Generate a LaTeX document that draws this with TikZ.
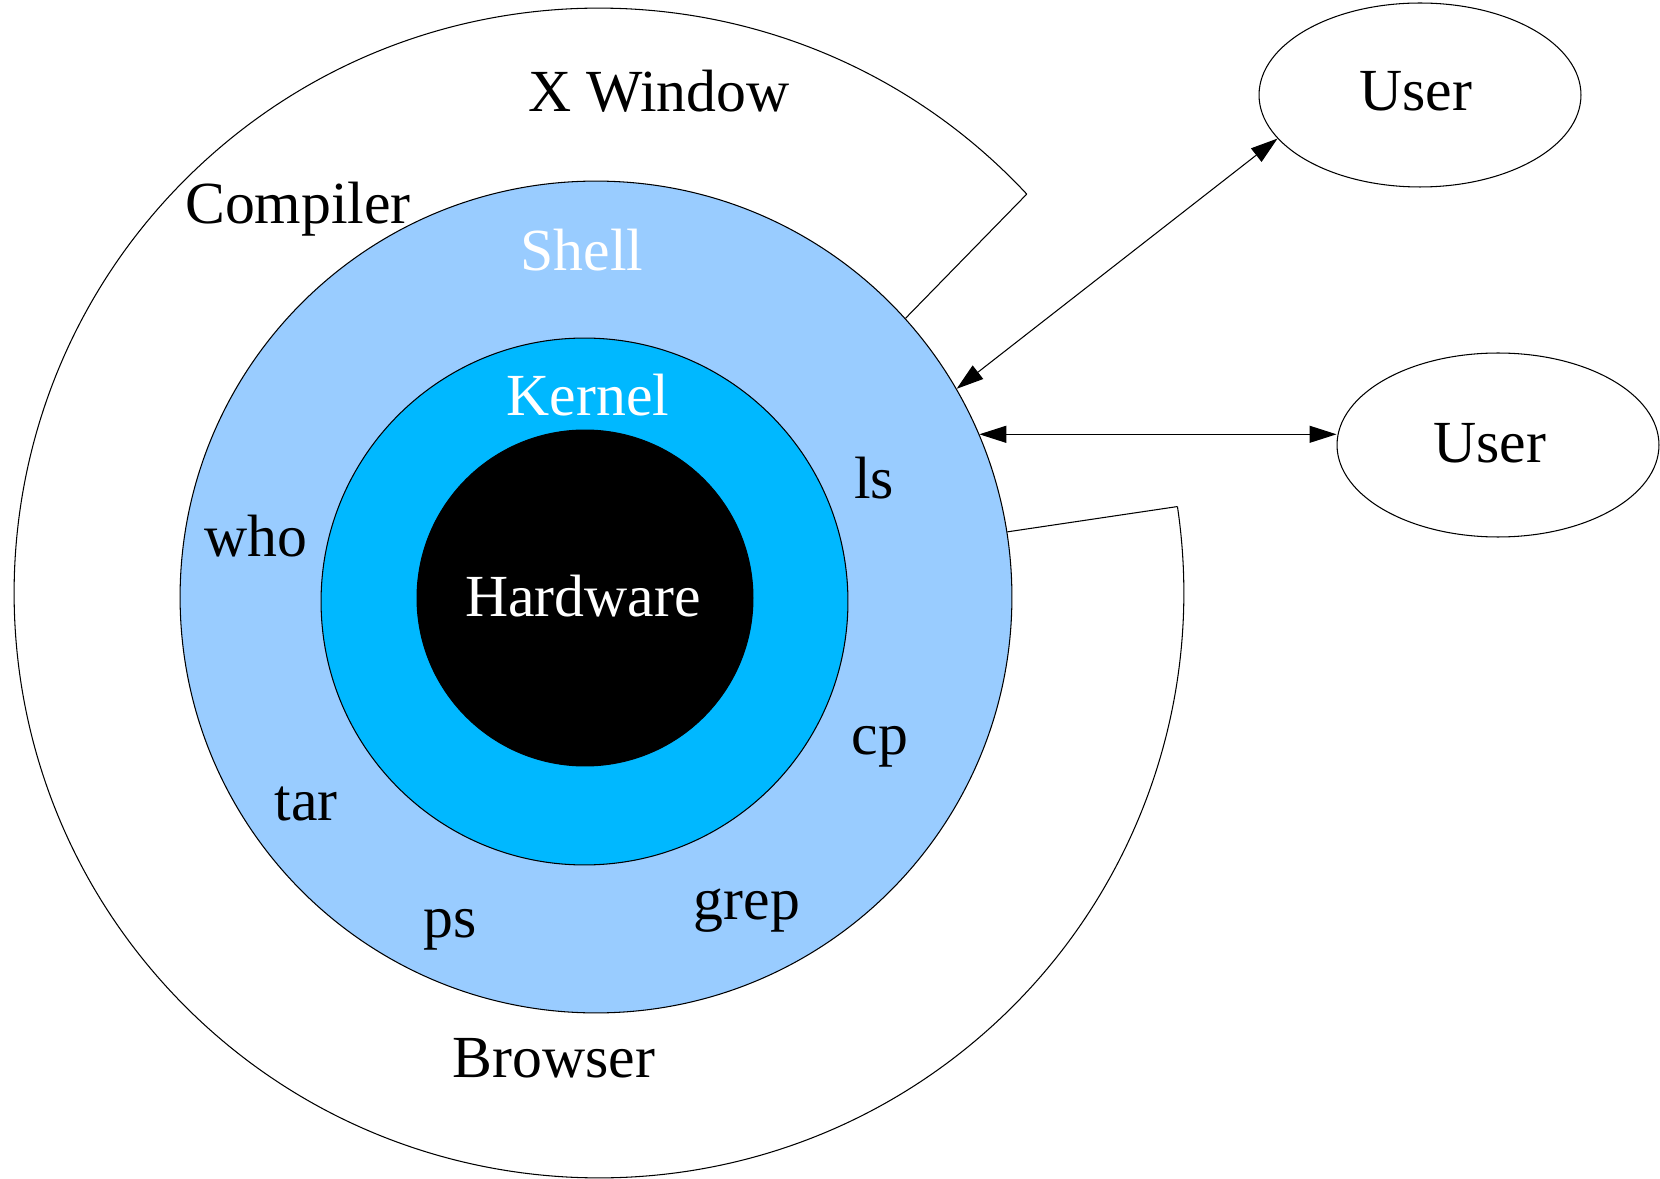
\documentclass[tikz,border=0pt]{standalone}
\usepackage{fontspec}
\setmainfont{Liberation Serif}
\usetikzlibrary{arrows.meta,shapes.geometric}
\definecolor{shellblue}{HTML}{99CCFF}
\definecolor{kernelblue}{HTML}{00B8FF}
\begin{document}
\begin{tikzpicture}[x=0.02cm,y=0.02cm,
  every node/.style={font=\fontsize{34}{40}\selectfont},
  ring/.style={circle,draw=black,line width=0.6pt,inner sep=0pt},
  lbl/.style={anchor=base,inner sep=0pt},
  wlbl/.style={lbl,text=white},
  usr/.style={ellipse,draw=black,line width=0.6pt,minimum width=6.44cm,minimum height=3.68cm,inner sep=0pt},
  link/.style={{Triangle[length=0.54cm,width=0.34cm]}-{Triangle[length=0.54cm,width=0.34cm]},line width=0.6pt}]
\fill[white] (0,0) rectangle (1660,1178);
\useasboundingbox (0,0) rectangle (1660,1178);
% outer C-shaped ring
\coordinate (oc) at (599,585);
\path (oc) ++(43:11.7cm) coordinate (oa);
\path (oc) ++(8.5:11.7cm) coordinate (ob);
\draw[line width=0.6pt] (oa) arc[start angle=43,end angle=368.5,radius=11.7cm];
% circles
\node[ring,fill=shellblue,minimum size=16.64cm] (shell) at (596,581) {};
\node[ring,fill=kernelblue,minimum size=10.54cm] (kernel) at (584.5,576.5) {};
\node[ring,fill=black,minimum size=6.72cm] (hw) at (585,580) {};
\draw[line width=0.6pt] (oa) -- (shell.42);
\draw[line width=0.6pt] (ob) -- (shell.9.5);
% labels
\node[lbl] (xw) at (659,1066) {X Window};
\node[lbl] (comp) at (298,954) {Compiler};
\node[wlbl] (shl) at (582,907) {Shell};
\node[wlbl] (krl) at (588,762) {Kernel};
\node[wlbl] (hwl) at (583,562) {Hardware};
\node[lbl] (ls) at (874,679) {ls};
\node[lbl] (who) at (256,622) {who};
\node[lbl] (cp) at (880,424) {cp};
\node[lbl] (tar) at (306,358) {tar};
\node[lbl] (ps) at (450,241) {ps};
\node[lbl] (grep) at (747,259) {grep};
\node[lbl] (brw) at (554,101) {Browser};
% users
\node[usr] (u1) at (1420,1083) {};
\node[usr] (u2) at (1498,733) {};
\node[lbl] (u1t) at (1416,1067) {User};
\node[lbl] (u2t) at (1490,715) {User};
\draw[link] (shell.30.5) -- (u1.197.7);
\draw[link] (shell.23) -- (shell.23 -| u2.west);
\end{tikzpicture}
\end{document}
